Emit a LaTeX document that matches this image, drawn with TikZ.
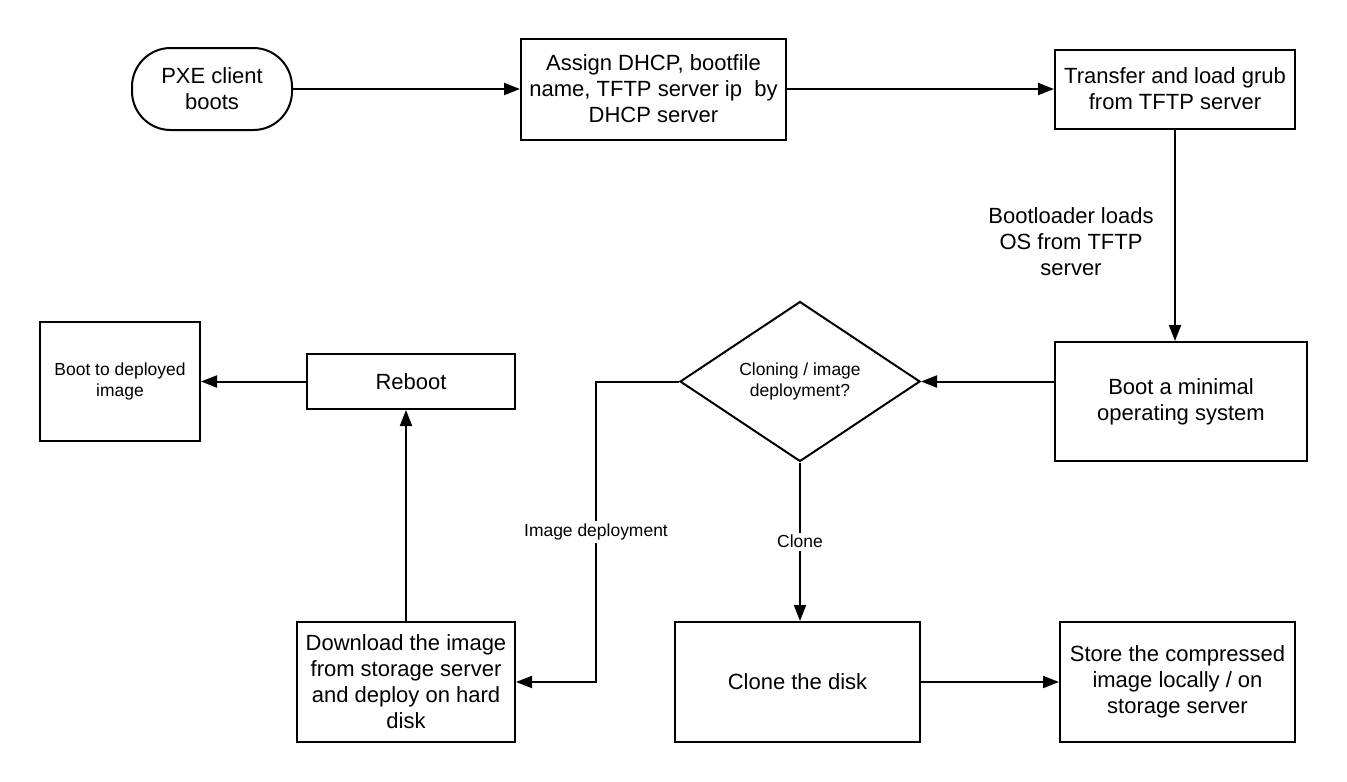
\documentclass[tikz,border=0pt]{standalone}
\usepackage{fontspec}
\setmainfont{Liberation Sans}
\usepackage{tikz}
\usetikzlibrary{arrows.meta,shapes.geometric}
\newcommand\bigtxt{\fontsize{16.5}{19.5}\selectfont}
\newcommand\smalltxt{\fontsize{13.1}{15.75}\selectfont}

\begin{document}
\begin{tikzpicture}[x=0.75pt,y=-0.75pt,->,>={Triangle[length=12pt,width=9pt]},
  line width=1.5pt,
  box node/.style={rectangle,draw,align=center,font=\bigtxt,inner sep=2pt},
  start node/.style={box node,rounded corners=29pt},
  choice node/.style={diamond,draw,align=center,font=\smalltxt,inner sep=0pt,aspect=1.5},
  edge label/.style={fill=white,font=\smalltxt,inner sep=2pt}]

  \useasboundingbox (0,0) rectangle (1347,782);

  \node[start node,minimum width=120pt,minimum height=61.5pt] (pxe) at (212,89) {PXE client\\boots};
  \node[box node,minimum width=198.75pt,minimum height=75.75pt] (dhcp) at (653.5,89) {Assign DHCP, bootfile\\name, TFTP server ip~ by\\DHCP server};
  \node[box node,minimum width=180pt,minimum height=59.25pt] (grub) at (1175,89) {Transfer and load grub\\from TFTP server};
  \node[box node,minimum width=189pt,minimum height=89.25pt] (minos) at (1181,401.5) {Boot a minimal\\operating system};
  \node[choice node,minimum width=180pt,minimum height=120pt] (choice) at (800,381.5) {Cloning / image\\deployment?};
  \node[box node,minimum width=156pt,minimum height=41.25pt] (reboot) at (411,381.5) {Reboot};
  \node[box node,font=\smalltxt,minimum width=120pt,minimum height=89.25pt] (final) at (120,381.5) {Boot to deployed\\image};
  \node[box node,minimum width=163.5pt,minimum height=90pt] (deploy) at (406,682) {Download the image\\from storage server\\and deploy on hard\\disk};
  \node[box node,minimum width=183.75pt,minimum height=90pt] (clone) at (797.5,682) {Clone the disk};
  \node[box node,minimum width=176.25pt,minimum height=90pt] (store) at (1177.5,682) {Store the compressed\\image locally / on\\storage server};

  \path
    (pxe) edge (dhcp)
    (dhcp) edge (grub)
    (grub.south) edge node[left=12pt,pos=0.53,align=center,font=\bigtxt] {Bootloader loads\\OS from TFTP\\server} (grub.south |- minos.north)
    (minos.west |- choice.east) edge (choice.east)
    (choice.south) edge node[edge label] {Clone} (choice.south |- clone.north)
    (clone) edge (store)
    (deploy.north) edge (deploy.north |- reboot.south)
    (reboot) edge (final);
  \draw (choice.west) -- ++(-83,0) |- node[edge label,pos=0.25] {Image deployment} (deploy.east);
\end{tikzpicture}
\end{document}
